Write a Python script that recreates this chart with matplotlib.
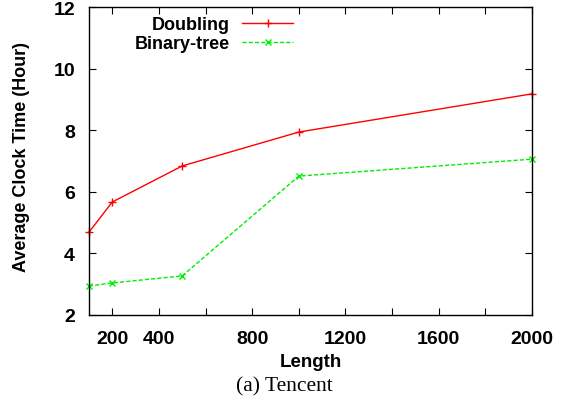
import matplotlib
matplotlib.use("Agg")
import matplotlib.pyplot as plt

lengths = [100, 200, 500, 1000, 2000]
doubling = [4.69, 5.67, 6.84, 7.94, 9.18]
binary_tree = [2.94, 3.04, 3.27, 6.51, 7.06]
xtick_labels = [200, 400, 800, 1200, 1600, 2000]
xtick_minor = [600, 1000, 1400, 1800]
yticks = [2, 4, 6, 8, 10, 12]

plt.rcParams['font.family'] = ['Liberation Sans', 'DejaVu Sans']
fig = plt.figure(figsize=(5.68, 4.06), dpi=100)
ax = fig.add_axes([89/568, 1-316/406, (532-89)/568, (316-8)/406])

ax.plot(lengths, doubling, color='#ff0000', lw=1.0, marker='+', ms=6, mew=1.0,
        label='Doubling', clip_on=False)
ax.plot(lengths, binary_tree, color='#00ee00', lw=1.0, ls=(0, (3, 1.5)), marker='x', ms=5, mew=1.0,
        label='Binary-tree', clip_on=False)

ax.set_xlim(100, 2000)
ax.set_ylim(2, 12)
ax.set_xticks(xtick_labels)
ax.set_xticklabels([str(v) for v in xtick_labels], fontsize=14, fontweight='bold')
ax.set_xticks(xtick_minor, minor=True)
ax.set_yticks(yticks)
ax.set_yticklabels([str(v) for v in yticks], fontsize=14, fontweight='bold')
ax.tick_params(which='both', direction='in', top=True, right=True, length=5, width=0.8)
ax.tick_params(axis='x', pad=11)
ax.tick_params(axis='y', pad=10)
for s in ax.spines.values():
    s.set_linewidth(1.0)

ax.set_xlabel('Length', fontsize=13.5, fontweight='bold')
ax.xaxis.set_label_coords(0.5, -(363 - 316) / 308, transform=ax.transAxes)
ax.xaxis.label.set_va('center')
ax.set_ylabel('Average Clock Time (Hour)', fontsize=13, fontweight='bold')
ax.yaxis.set_label_coords((21 - 89) / 443, (316 - 157) / 308)
ax.yaxis.label.set_va('center')

leg = ax.legend(loc='upper right', bbox_to_anchor=(293/568, 1-17/406),
                bbox_transform=fig.transFigure, frameon=False, markerfirst=False,
                prop={'size': 13, 'weight': 'bold'}, handlelength=2.8, handletextpad=0.72,
                labelspacing=0.12, borderpad=0, borderaxespad=0)
for t in leg.get_texts():
    t.set_ha('right')
leg._legend_box.align = 'right'

fig.text(0.5, 1-387/406, '(a) Tencent', ha='center', va='center', fontsize=15.5,
         family=['Liberation Serif', 'DejaVu Serif'])

fig.savefig('out.png', dpi=100)
